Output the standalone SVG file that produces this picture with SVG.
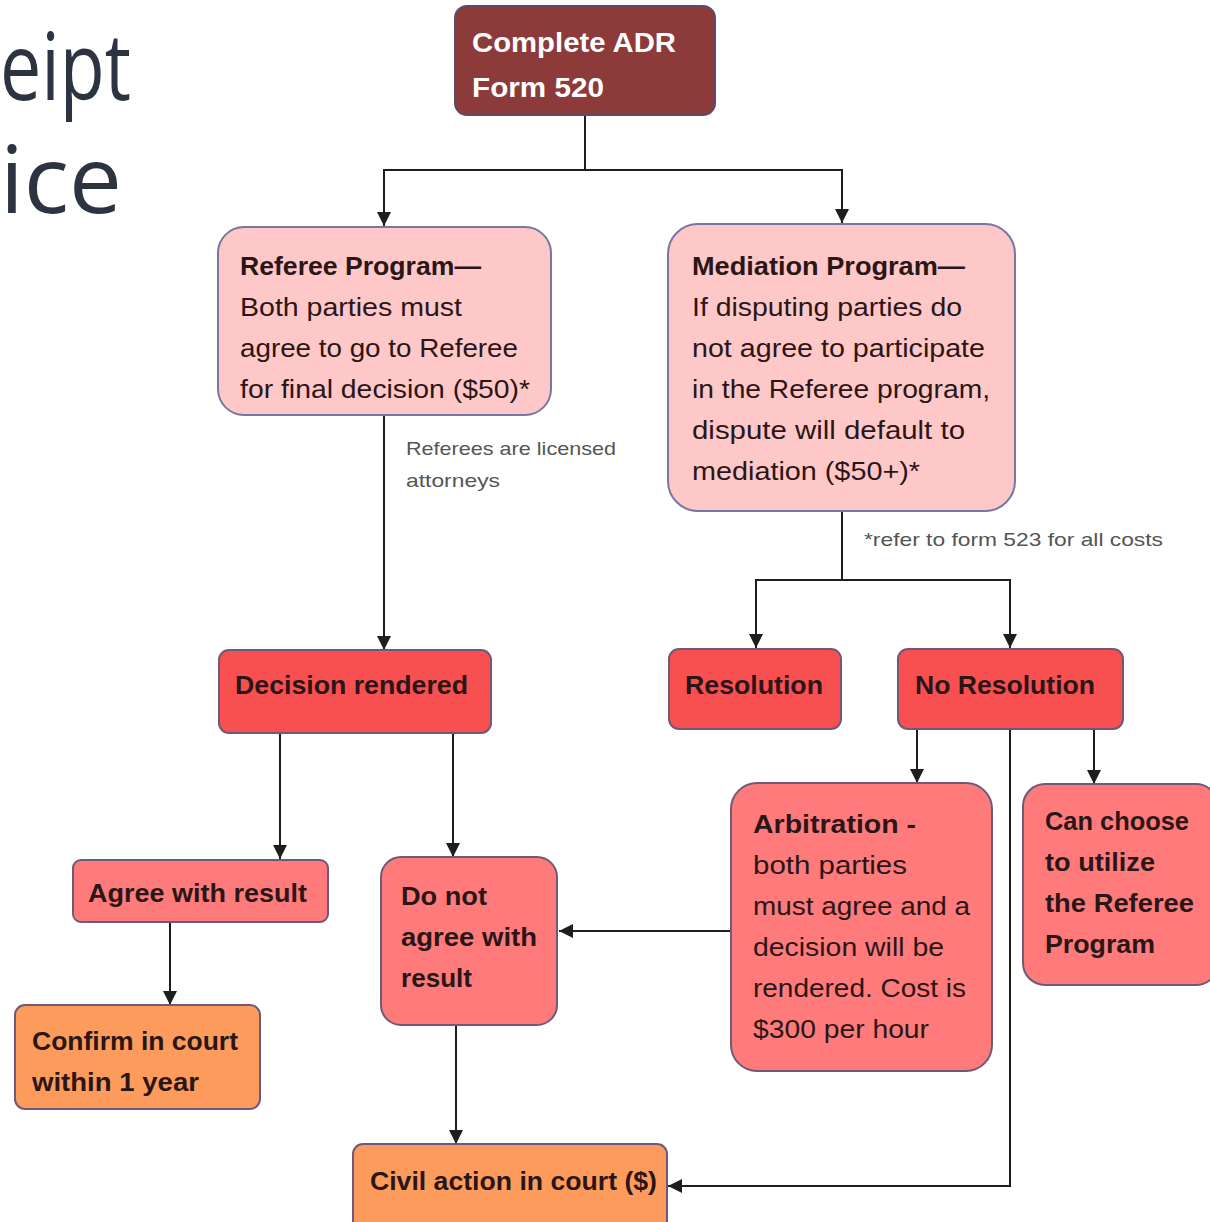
<svg xmlns="http://www.w3.org/2000/svg" width="1210" height="1222" viewBox="0 0 1210 1222">
<style>
  .t{font-family:"Liberation Sans",Arial,sans-serif;fill:#2a1616}
  .b{font-weight:bold}
  .n{font-size:25px}
  .bb{font-size:25px;font-weight:bold}
  .note{font-family:"Liberation Sans",Arial,sans-serif;font-size:19px;fill:#555}
  .title{font-family:"Open Sans","Liberation Sans",sans-serif;font-size:94px;fill:#2b3440}
  .pink{fill:#ffc8c8;stroke:#7a76a0;stroke-width:2}
  .red{fill:#f85050;stroke:#6e5a78;stroke-width:2}
  .sal{fill:#ff7b7b;stroke:#6e5a78;stroke-width:2}
  .org{fill:#fd9b5c;stroke:#6e5a78;stroke-width:2}
  .top{fill:#8c3a3a;stroke:#5e4a68;stroke-width:2}
  .c{fill:none;stroke:#1e1e1e;stroke-width:2}
</style>
<defs>
  <marker id="ar" viewBox="0 0 10 10" refX="10" refY="5" markerWidth="14" markerHeight="14" markerUnits="userSpaceOnUse" orient="auto">
    <path d="M0,0 L10,5 L0,10 z" fill="#1e1e1e"/>
  </marker>
</defs>
<rect width="1210" height="1222" fill="#ffffff"/>

<g id="title">
  <text class="title" x="0" y="100" textLength="131" lengthAdjust="spacingAndGlyphs">eipt</text>
  <text class="title" x="0" y="213" textLength="122" lengthAdjust="spacingAndGlyphs">ice</text>
</g>

<g id="connectors">
  <path class="c" d="M585,115 V170"/>
  <path class="c" d="M585,170 H384 V226" marker-end="url(#ar)"/>
  <path class="c" d="M585,170 H842 V223" marker-end="url(#ar)"/>
  <path class="c" d="M384,415 V650" marker-end="url(#ar)"/>
  <path class="c" d="M842,511 V580"/>
  <path class="c" d="M842,580 H756 V648" marker-end="url(#ar)"/>
  <path class="c" d="M842,580 H1010 V648" marker-end="url(#ar)"/>
  <path class="c" d="M280,733 V859" marker-end="url(#ar)"/>
  <path class="c" d="M453,733 V857" marker-end="url(#ar)"/>
  <path class="c" d="M170,922 V1005" marker-end="url(#ar)"/>
  <path class="c" d="M456,1025 V1144" marker-end="url(#ar)"/>
  <path class="c" d="M917,729 V783" marker-end="url(#ar)"/>
  <path class="c" d="M1094,729 V784" marker-end="url(#ar)"/>
  <path class="c" d="M1010,729 V1186 H668" marker-end="url(#ar)"/>
  <path class="c" d="M731,931 H559" marker-end="url(#ar)"/>
</g>

<g id="notes">
  <text class="note" x="406" y="455" textLength="210" lengthAdjust="spacingAndGlyphs">Referees are licensed</text>
  <text class="note" x="406" y="487" textLength="94" lengthAdjust="spacingAndGlyphs">attorneys</text>
  <text class="note" x="864" y="546" textLength="299" lengthAdjust="spacingAndGlyphs">*refer to form 523 for all costs</text>
</g>

<g id="n-complete">
  <rect class="top" x="455" y="6" width="260" height="109" rx="12"/>
  <text class="t b" x="472" y="52" font-size="27" style="fill:#ffffff" textLength="204" lengthAdjust="spacingAndGlyphs">Complete ADR</text>
  <text class="t b" x="472" y="97" font-size="27" style="fill:#ffffff" textLength="132" lengthAdjust="spacingAndGlyphs">Form 520</text>
</g>

<g id="n-referee">
  <rect class="pink" x="218" y="227" width="333" height="188" rx="26"/>
  <text class="t bb" x="240" y="275" textLength="241" lengthAdjust="spacingAndGlyphs">Referee Program—</text>
  <text class="t n" x="240" y="316" textLength="222" lengthAdjust="spacingAndGlyphs">Both parties must</text>
  <text class="t n" x="240" y="357" textLength="278" lengthAdjust="spacingAndGlyphs">agree to go to Referee</text>
  <text class="t n" x="240" y="398" textLength="290" lengthAdjust="spacingAndGlyphs">for final decision ($50)*</text>
</g>

<g id="n-mediation">
  <rect class="pink" x="668" y="224" width="347" height="287" rx="30"/>
  <text class="t bb" x="692" y="275" textLength="273" lengthAdjust="spacingAndGlyphs">Mediation Program—</text>
  <text class="t n" x="692" y="316" textLength="270" lengthAdjust="spacingAndGlyphs">If disputing parties do</text>
  <text class="t n" x="692" y="357" textLength="293" lengthAdjust="spacingAndGlyphs">not agree to participate</text>
  <text class="t n" x="692" y="398" textLength="298" lengthAdjust="spacingAndGlyphs">in the Referee program,</text>
  <text class="t n" x="692" y="439" textLength="273" lengthAdjust="spacingAndGlyphs">dispute will default to</text>
  <text class="t n" x="692" y="480" textLength="228" lengthAdjust="spacingAndGlyphs">mediation ($50+)*</text>
</g>

<g id="n-decision">
  <rect class="red" x="219" y="650" width="272" height="83" rx="10"/>
  <text class="t bb" x="235" y="694" textLength="233" lengthAdjust="spacingAndGlyphs">Decision rendered</text>
</g>

<g id="n-resolution">
  <rect class="red" x="669" y="649" width="172" height="80" rx="10"/>
  <text class="t bb" x="685" y="694" textLength="138" lengthAdjust="spacingAndGlyphs">Resolution</text>
</g>

<g id="n-noresolution">
  <rect class="red" x="898" y="649" width="225" height="80" rx="10"/>
  <text class="t bb" x="915" y="694" textLength="180" lengthAdjust="spacingAndGlyphs">No Resolution</text>
</g>

<g id="n-agree">
  <rect class="sal" x="73" y="860" width="255" height="62" rx="8"/>
  <text class="t bb" x="88" y="902" textLength="219" lengthAdjust="spacingAndGlyphs">Agree with result</text>
</g>

<g id="n-donotagree">
  <rect class="sal" x="381" y="857" width="176" height="168" rx="20"/>
  <text class="t bb" x="401" y="905" textLength="86" lengthAdjust="spacingAndGlyphs">Do not</text>
  <text class="t bb" x="401" y="946" textLength="136" lengthAdjust="spacingAndGlyphs">agree with</text>
  <text class="t bb" x="401" y="987" textLength="71" lengthAdjust="spacingAndGlyphs">result</text>
</g>

<g id="n-arbitration">
  <rect class="sal" x="731" y="783" width="261" height="288" rx="26"/>
  <text class="t bb" x="753" y="833" textLength="163" lengthAdjust="spacingAndGlyphs">Arbitration -</text>
  <text class="t n" x="753" y="874" textLength="154" lengthAdjust="spacingAndGlyphs">both parties</text>
  <text class="t n" x="753" y="915" textLength="217" lengthAdjust="spacingAndGlyphs">must agree and a</text>
  <text class="t n" x="753" y="956" textLength="191" lengthAdjust="spacingAndGlyphs">decision will be</text>
  <text class="t n" x="753" y="997" textLength="213" lengthAdjust="spacingAndGlyphs">rendered. Cost is</text>
  <text class="t n" x="753" y="1038" textLength="176" lengthAdjust="spacingAndGlyphs">$300 per hour</text>
</g>

<g id="n-canchoose">
  <rect class="sal" x="1023" y="784" width="195" height="201" rx="22"/>
  <text class="t bb" x="1045" y="830" textLength="144" lengthAdjust="spacingAndGlyphs">Can choose</text>
  <text class="t bb" x="1045" y="871" textLength="110" lengthAdjust="spacingAndGlyphs">to utilize</text>
  <text class="t bb" x="1045" y="912" textLength="149" lengthAdjust="spacingAndGlyphs">the Referee</text>
  <text class="t bb" x="1045" y="953" textLength="110" lengthAdjust="spacingAndGlyphs">Program</text>
</g>

<g id="n-confirm">
  <rect class="org" x="15" y="1005" width="245" height="104" rx="10"/>
  <text class="t bb" x="32" y="1050" textLength="206" lengthAdjust="spacingAndGlyphs">Confirm in court</text>
  <text class="t bb" x="32" y="1091" textLength="167" lengthAdjust="spacingAndGlyphs">within 1 year</text>
</g>

<g id="n-civil">
  <rect class="org" x="353" y="1144" width="314" height="90" rx="10"/>
  <text class="t bb" x="370" y="1190" textLength="287" lengthAdjust="spacingAndGlyphs">Civil action in court ($)</text>
</g>
</svg>
